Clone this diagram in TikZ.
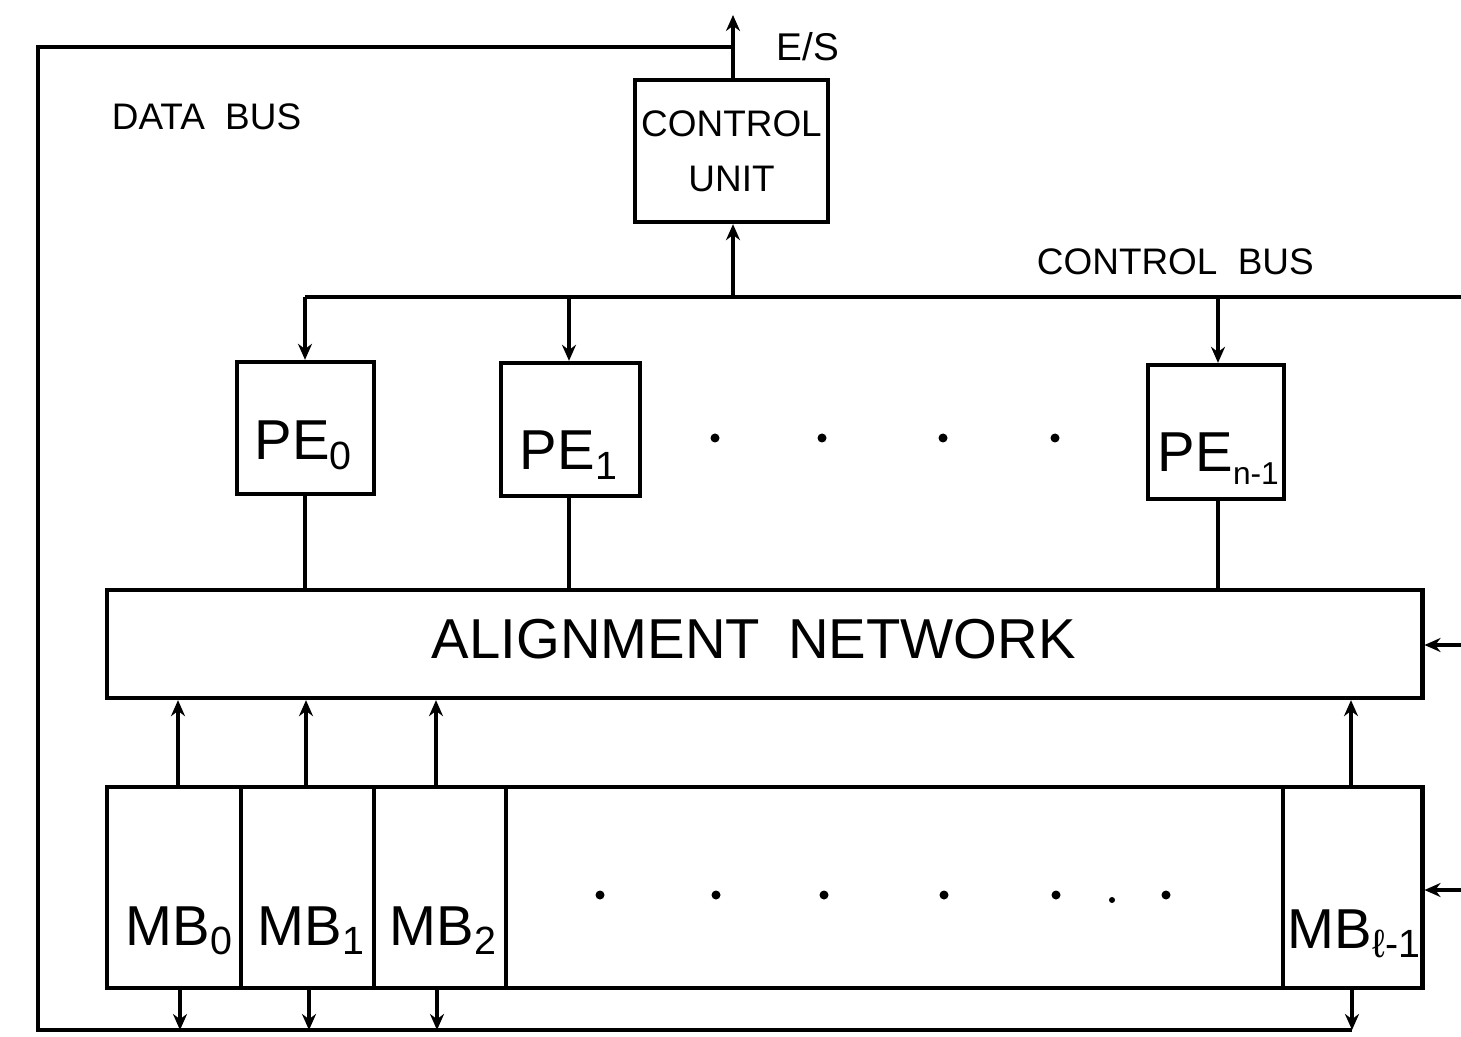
\documentclass[tikz,border=0pt]{standalone}
\usepackage{fontspec}
\setmainfont{Liberation Sans}
\usetikzlibrary{arrows.meta}
\begin{document}
\begin{tikzpicture}[x=0.01cm,y=-0.01cm, line width=1.1pt,
  box/.style={draw, inner sep=0pt, line width=1.2pt},
  lbl/.style={inner sep=0pt, font=\fontsize{10.5}{12}\selectfont},
  big/.style={inner sep=0pt, font=\fontsize{16}{18}\selectfont},
  arr/.style={-{Stealth[length=1.6mm,width=1.4mm]}},
  dotmark/.style={circle, fill, inner sep=0pt, minimum size=0.9mm}]
\useasboundingbox (0,0) rectangle (1461,1037);

% control unit
\node[box, minimum width=1.93cm, minimum height=1.42cm, align=center,
      font=\fontsize{10.5}{15.6}\selectfont] (cu) at (731.5,151) {CONTROL\\UNIT};
\node[lbl, anchor=base west, font=\fontsize{11}{12}\selectfont] (es) at (775,61) {E/S};
\node[lbl, anchor=base west] (dbl) at (110,130) {DATA\hspace{0.55em}BUS};
\node[lbl, anchor=base west] (cbl) at (1035,275) {CONTROL\hspace{0.55em}BUS};

% processing elements
\node[box, minimum width=1.37cm, minimum height=1.32cm] (pe0) at (305.5,428) {};
\node[box, minimum width=1.39cm, minimum height=1.33cm] (pe1) at (570.5,429.5) {};
\node[box, minimum width=1.36cm, minimum height=1.34cm] (pen) at (1216,432) {};
\node[big, anchor=base west] (pe0t) at (253,460) {PE\textsubscript{0}};
\node[big, anchor=base west] (pe1t) at (518,470) {PE\textsubscript{1}};
\node[big, anchor=base west] (pent) at (1156,472) {PE\raisebox{-0.22em}{\fontsize{9}{9}\selectfont n-1}};

% alignment network
\node[box, minimum width=13.15cm, minimum height=1.08cm] (net) at (764.5,644) {};
\node[big, anchor=base west] (nett) at (430,658) {ALIGNMENT\hspace{0.5em}NETWORK};

% memory banks
\node[box, minimum width=13.15cm, minimum height=2.01cm] (mbrow) at (764.5,887.5) {};
\node[box, minimum width=1.34cm, minimum height=2.01cm] (mb0) at (174,887.5) {};
\node[box, minimum width=1.33cm, minimum height=2.01cm] (mb1) at (307.5,887.5) {};
\node[box, minimum width=1.32cm, minimum height=2.01cm] (mb2) at (440,887.5) {};
\node[box, minimum width=1.39cm, minimum height=2.01cm] (mbl) at (1352.5,887.5) {};
\node[big, anchor=base west] (mb0t) at (124,945) {MB\textsubscript{0}};
\node[big, anchor=base west] (mb1t) at (256,945) {MB\textsubscript{1}};
\node[big, anchor=base west] (mb2t) at (388,945) {MB\textsubscript{2}};
\node[big, anchor=base west] (mblt) at (1286,948) {MB\textsubscript{ℓ-1}};

% dots
\foreach \xx in {715,822,943,1055} \node[dotmark] at (\xx,438) {};
\foreach \xx in {600,716,824,944,1056,1166} \node[dotmark] at (\xx,895) {};
\node[dotmark, minimum size=0.6mm] at (1112,900) {};

% coordinates
\coordinate (cb0) at (305,297);
\coordinate (cb1) at (569,297);
\coordinate (cbcu) at (733,297);
\coordinate (cbn) at (1218,297);
\coordinate (cbr) at (1461,297);
\coordinate (estop) at (733,15);
\coordinate (dbj) at (733,47);
\coordinate (dbtl) at (38,47);
\coordinate (dbbl) at (38,1030);
\coordinate (dbbr) at (1352,1030);
\coordinate (nr) at (1461,645);
\coordinate (mr) at (1461,890);
\coordinate (x0) at (178,0);
\coordinate (x1) at (306,0);
\coordinate (x2) at (436,0);
\coordinate (xl) at (1351,0);
\coordinate (y0) at (180,0);
\coordinate (y1) at (309,0);
\coordinate (y2) at (437,0);
\coordinate (yl) at (1352,0);

% control bus
\draw (cb0) -- (cbr);
\draw[arr] (cbcu) -- (cbcu |- cu.south);
\draw[arr] (cbcu |- cu.north) -- (estop);
\draw[arr] (cb0) -- (cb0 |- pe0.north);
\draw[arr] (cb1) -- (cb1 |- pe1.north);
\draw[arr] (cbn) -- (cbn |- pen.north);

% data bus
\draw (dbj) -- (dbtl) -- (dbbl) -- (dbbr);

% PE to network
\draw (cb0 |- pe0.south) -- (cb0 |- net.north);
\draw (cb1 |- pe1.south) -- (cb1 |- net.north);
\draw (cbn |- pen.south) -- (cbn |- net.north);

% network to memory banks
\draw[arr] (x0 |- mb0.north) -- (x0 |- net.south);
\draw[arr] (x1 |- mb1.north) -- (x1 |- net.south);
\draw[arr] (x2 |- mb2.north) -- (x2 |- net.south);
\draw[arr] (xl |- mbl.north) -- (xl |- net.south);

% memory banks to data bus
\draw[arr] (y0 |- mb0.south) -- (y0 |- dbbl);
\draw[arr] (y1 |- mb1.south) -- (y1 |- dbbl);
\draw[arr] (y2 |- mb2.south) -- (y2 |- dbbl);
\draw[arr] (yl |- mbl.south) -- (dbbr);

% inputs from right
\draw[arr] (nr) -- (nr -| net.east);
\draw[arr] (mr) -- (mr -| mbrow.east);
\end{tikzpicture}
\end{document}
